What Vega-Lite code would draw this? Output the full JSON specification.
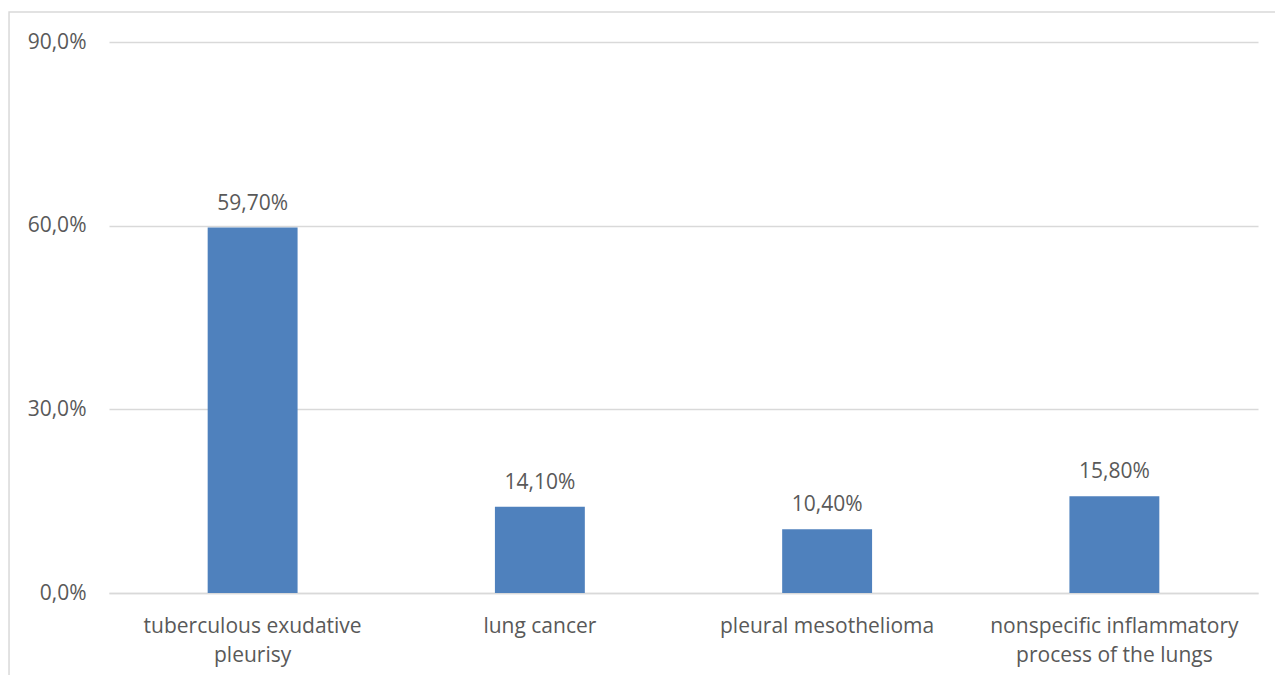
{
  "$schema": "https://vega.github.io/schema/vega-lite/v6.json",
  "autosize": {"type": "none"},
  "width": 1149,
  "height": 551,
  "padding": {"left": 109, "top": 42, "right": 17, "bottom": 82},
  "background": "#ffffff",
  "config": {
    "locale": {
      "number": {"decimal": ",", "thousands": ".", "grouping": [3], "currency": ["", " €"]}
    },
    "view": {"stroke": null},
    "font": "Open Sans",
    "text": {"font": "Open Sans", "fontSize": 21, "color": "#595959"},
    "axis": {"labelFont": "Open Sans", "labelFontSize": 21, "labelColor": "#595959", "labelLimit": 0}
  },
  "datasets": {
    "shares": [
      {"category": "tuberculous exudative pleurisy", "share": 0.597},
      {"category": "lung cancer", "share": 0.141},
      {"category": "pleural mesothelioma", "share": 0.104},
      {"category": "nonspecific inflammatory process of the lungs", "share": 0.158}
    ],
    "frame": [{"left": -0.087, "right": 1.02, "top": 0.949, "bottom": -0.16}]
  },
  "layer": [
    {
      "data": {"name": "frame"},
      "mark": {"type": "rect", "fill": null, "stroke": "#D9D9D9", "strokeWidth": 1.5},
      "encoding": {
        "x": {"field": "left", "type": "quantitative", "scale": {"domain": [0, 1]}, "axis": null},
        "x2": {"field": "right"},
        "y": {"field": "top", "type": "quantitative"},
        "y2": {"field": "bottom"}
      }
    },
    {
      "data": {"name": "shares"},
      "layer": [
        {
          "mark": {"type": "bar", "color": "#4F81BD"},
          "encoding": {
            "x": {
              "field": "category", "type": "nominal", "sort": null,
              "scale": {"paddingInner": 0.687, "paddingOuter": 0.3435},
              "axis": {
                "title": null, "labelAngle": 0, "ticks": false,
                "domainColor": "#D9D9D9", "domainWidth": 1.5,
                "labelPadding": 22, "labelLineHeight": 29, "labelBaseline": "top",
                "labelExpr": "datum.value == 'tuberculous exudative pleurisy' ? ['tuberculous exudative', 'pleurisy'] : datum.value == 'nonspecific inflammatory process of the lungs' ? ['nonspecific inflammatory', 'process of the lungs'] : datum.value"
              }
            },
            "y": {
              "field": "share", "type": "quantitative",
              "scale": {"domain": [0, 0.9], "nice": false},
              "axis": {
                "title": null, "values": [0, 0.3, 0.6, 0.9], "format": ".1%",
                "domain": false, "ticks": false, "labelPadding": 23,
                "gridColor": "#D9D9D9", "gridWidth": 1.5
              }
            },
            "y2": {"datum": 0}
          }
        },
        {
          "mark": {"type": "text", "baseline": "alphabetic", "dy": -18},
          "encoding": {
            "x": {"field": "category", "type": "nominal", "sort": null},
            "y": {"field": "share", "type": "quantitative"},
            "text": {"field": "share", "type": "quantitative", "format": ".2%"}
          }
        }
      ]
    }
  ],
  "resolve": {"scale": {"x": "independent"}}
}
